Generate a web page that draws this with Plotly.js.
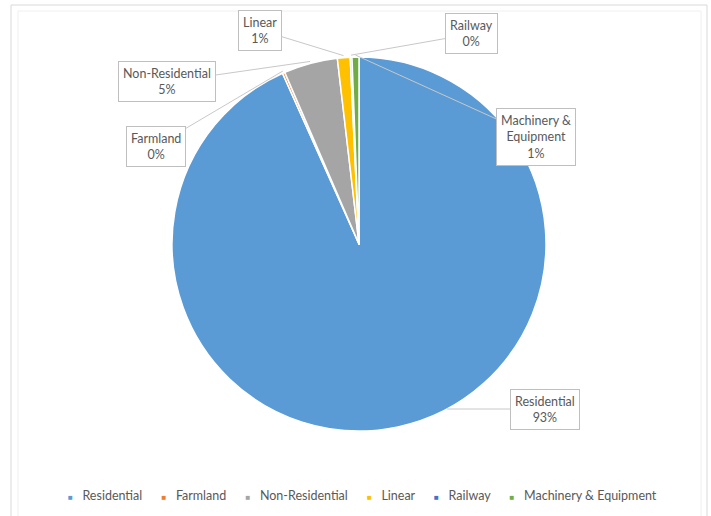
<!DOCTYPE html>
<html>
<head>
<meta charset="utf-8">
<script src="https://cdn.plot.ly/plotly-3.0.1.min.js"></script>
<style>html,body{margin:0;padding:0;background:#fff;}#chart{width:711px;height:516px;}</style>
</head>
<body>
<div id="chart"></div>
<script>
// ---- data ----
const labels = ['Residential', 'Farmland', 'Non-Residential', 'Linear', 'Railway', 'Machinery & Equipment'];
const values = [93.3, 0.2, 4.65, 1.1, 0.15, 0.6];
const colors = ['#5B9BD5', '#ED7D31', '#A5A5A5', '#FFC000', '#4472C4', '#70AD47'];
const labelText = ['Residential', 'Farmland', 'Non-Residential', 'Linear', 'Railway', 'Machinery &<br>Equipment'];
// data-label box centres (px, screen)
const boxCenters = [[545, 409], [156, 146], [167, 82], [260, 30], [471, 34], [536, 137]];

// ---- geometry ----
const W = 711, H = 516;
const cx = 359, cy = 244, R = 187;
const dom = {x: [(cx - R) / W, (cx + R) / W], y: [(H - cy - R) / H, (H - cy + R) / H]};
const total = values.reduce((a, b) => a + b, 0);

const traces = [{
  type: 'pie',
  labels: labels,
  values: values,
  marker: {colors: colors, line: {color: '#ffffff', width: 1.5}},
  sort: false,
  direction: 'clockwise',
  rotation: 0,
  textinfo: 'none',
  hoverinfo: 'label+percent',
  showlegend: false,
  domain: dom
}];

const annotations = [];
let cum = 0;
values.forEach((v, i) => {
  const frac = v / total;
  const [bx, by] = boxCenters[i];
  let px, py;
  if (frac > 0.1) {
    const dy = by - cy;
    px = cx + Math.sign(bx - cx) * Math.sqrt(Math.max(R * R - dy * dy, 0));
    py = by;
  } else {
    const th = 2 * Math.PI * (cum + v / 2) / total;
    px = cx + (R + 2) * Math.sin(th);
    py = cy - (R + 2) * Math.cos(th);
  }
  cum += v;
  annotations.push({
    xref: 'paper', yref: 'paper', x: px / W, y: 1 - py / H,
    ax: bx - px, ay: by - py,
    text: labelText[i] + '<br>' + Math.round(frac * 100) + '%',
    showarrow: true, arrowhead: 0, arrowwidth: 1, arrowcolor: '#C8C8C8', standoff: 0,
    font: {family: 'Lato, sans-serif', size: 12.5, color: '#595959'},
    align: 'center', bgcolor: '#ffffff', bordercolor: '#BFBFBF', borderwidth: 1, borderpad: 4
  });
});

// legend (Excel style: small square key close to its text)
const nb = '\u00a0';
const legendText = labels.map((l, i) =>
  '<span style="color:' + colors[i] + ';font-size:8px">■</span>' + nb + nb + nb + l
).join(nb.repeat(6));
annotations.push({
  xref: 'paper', yref: 'paper', x: 362 / W, y: 1 - 495 / H, xanchor: 'center', yanchor: 'middle',
  showarrow: false, text: legendText,
  font: {family: 'Lato, sans-serif', size: 12.5, color: '#595959'}
});

const layout = {
  width: W, height: H,
  margin: {l: 0, r: 0, t: 0, b: 0},
  paper_bgcolor: '#ffffff', plot_bgcolor: 'rgba(0,0,0,0)',
  showlegend: false,
  annotations: annotations,
  shapes: [
    {type: 'rect', xref: 'paper', yref: 'paper', x0: 11 / W, x1: 707 / W, y0: -0.05, y1: 1 - 5 / H,
      line: {color: '#D9D9D9', width: 1}, fillcolor: 'rgba(0,0,0,0)', layer: 'below'},
    {type: 'rect', xref: 'paper', yref: 'paper', x0: 18 / W, x1: 701 / W, y0: -0.05, y1: 1 - 11 / H,
      line: {color: '#F0F0F0', width: 1}, fillcolor: 'rgba(0,0,0,0)', layer: 'below'}
  ]
};

Plotly.newPlot('chart', traces, layout, {displayModeBar: false, staticPlot: true});
</script>
</body>
</html>
